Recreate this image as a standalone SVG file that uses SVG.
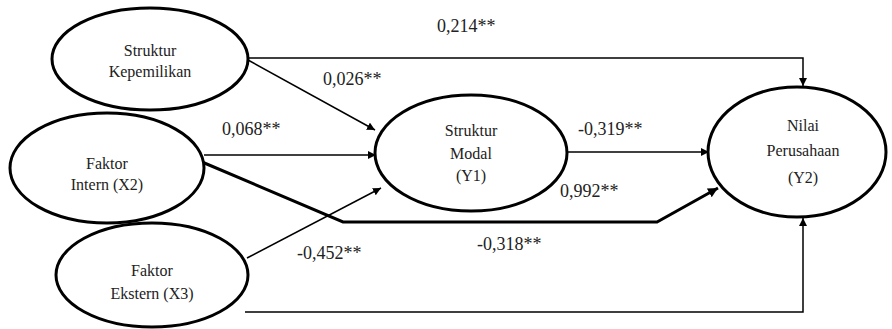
<svg xmlns="http://www.w3.org/2000/svg" width="892" height="329" viewBox="0 0 892 329">
<style>
.node ellipse{fill:#fff;stroke:#000;stroke-width:3}
.nt{font-size:16px;text-anchor:middle;fill:#222}
.lbl{font-size:18px;fill:#222}
.c{fill:none;stroke:#000;stroke-width:1.5}
.thick{stroke-width:3}
</style>
<defs>
<marker id="ah" viewBox="0 0 10 10" refX="10" refY="5" markerWidth="8" markerHeight="8" markerUnits="userSpaceOnUse" orient="auto"><path d="M0,0 L10,5 L0,10 z" fill="#000"/></marker>
<marker id="ah2" viewBox="0 0 10 10" refX="10" refY="5" markerWidth="10" markerHeight="10" markerUnits="userSpaceOnUse" orient="auto"><path d="M0,0 L10,5 L0,10 z" fill="#000"/></marker>
</defs>
<rect width="892" height="329" fill="#fff"/>
<g id="connectors">
<path class="c" d="M248,58 H803 V86" marker-end="url(#ah)"/>
<path class="c" d="M248,60 L375,130" marker-end="url(#ah)"/>
<path class="c" d="M204,155 H376" marker-end="url(#ah)"/>
<path class="c thick" d="M202,162 L343,222 H657 L718,188" marker-end="url(#ah2)"/>
<path class="c" d="M247,258 L381,188" marker-end="url(#ah)"/>
<path class="c" d="M567,152 H709" marker-end="url(#ah)"/>
<path class="c" d="M245,312 H803 V218" marker-end="url(#ah)"/>
</g>
<g id="labels" font-family="Liberation Serif, serif">
<text class="lbl" x="437" y="32">0,214**</text>
<text class="lbl" x="323" y="85">0,026**</text>
<text class="lbl" x="222" y="135">0,068**</text>
<text class="lbl" x="578" y="135">-0,319**</text>
<text class="lbl" x="560" y="197">0,992**</text>
<text class="lbl" x="297" y="259">-0,452**</text>
<text class="lbl" x="477" y="250">-0,318**</text>
</g>
<g id="nodes" font-family="Liberation Serif, serif">
<g id="n1" class="node"><ellipse cx="150" cy="59" rx="98" ry="51"/><text class="nt" x="150" y="56">Struktur</text><text class="nt" x="150" y="77">Kepemilikan</text></g>
<g id="n2" class="node"><ellipse cx="107" cy="168" rx="97" ry="55"/><text class="nt" x="107" y="169">Faktor</text><text class="nt" x="107" y="190">Intern (X2)</text></g>
<g id="n3" class="node"><ellipse cx="152" cy="275" rx="96" ry="52"/><text class="nt" x="152" y="276">Faktor</text><text class="nt" x="152" y="299">Ekstern (X3)</text></g>
<g id="n4" class="node"><ellipse cx="471" cy="153" rx="96" ry="58"/><text class="nt" x="471" y="136">Struktur</text><text class="nt" x="471" y="159">Modal</text><text class="nt" x="471" y="181">(Y1)</text></g>
<g id="n5" class="node"><ellipse cx="797" cy="152" rx="89" ry="65"/><text class="nt" x="803" y="131">Nilai</text><text class="nt" x="803" y="156">Perusahaan</text><text class="nt" x="803" y="183">(Y2)</text></g>
</g>
</svg>
